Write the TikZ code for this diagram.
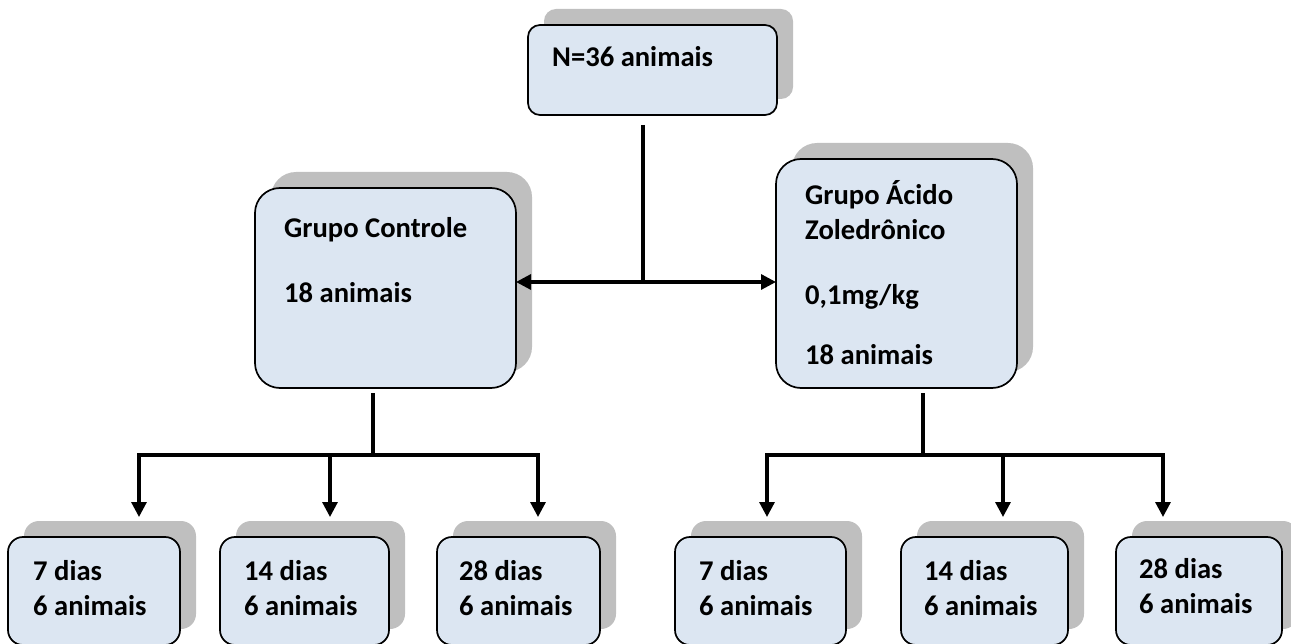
\documentclass[tikz,border=0pt]{standalone}
\usepackage{fontspec}
\setmainfont{Carlito}
\usetikzlibrary{shadows,arrows.meta}
\definecolor{boxfill}{HTML}{DCE6F2}
\definecolor{shadowc}{HTML}{BFBFBF}
\begin{document}
\begin{tikzpicture}[x=1pt,y=-1pt,
  box/.style={draw=black, line width=1.7pt, fill=boxfill, inner sep=0pt, outer sep=0pt, anchor=north west,
    general shadow={fill=shadowc, shadow xshift=16pt, shadow yshift=16pt}},
  lbl/.style={anchor=base west, inner sep=0pt, font=\fontsize{28.6}{35}\selectfont\bfseries},
  conn/.style={line width=3.2pt},
  arr/.style={conn, -{Triangle[length=15pt,width=15pt]}},
  darr/.style={conn, {Triangle[length=15pt,width=15pt]}-{Triangle[length=15pt,width=15pt]}},
]
\useasboundingbox (0,0) rectangle (1291,644);
% boxes
\node[box, rounded corners=12pt, minimum width=249pt, minimum height=90pt] (N) at (528,25) {};
\node[box, rounded corners=25pt, minimum width=261pt, minimum height=200pt] (ctrl) at (255,188) {};
\node[box, rounded corners=25pt, minimum width=241pt, minimum height=229pt] (zol) at (776,159) {};
\node[box, rounded corners=15pt, minimum width=172pt, minimum height=108pt] (L7) at (8,537) {};
\node[box, rounded corners=15pt, minimum width=169pt, minimum height=108pt] (L14) at (220,537) {};
\node[box, rounded corners=15pt, minimum width=163pt, minimum height=108pt] (L28) at (437,537) {};
\node[box, rounded corners=15pt, minimum width=171pt, minimum height=108pt] (R7) at (675,537) {};
\node[box, rounded corners=15pt, minimum width=167pt, minimum height=108pt] (R14) at (901,537) {};
\node[box, rounded corners=15pt, minimum width=166pt, minimum height=108pt] (R28) at (1116,537) {};
% texts
\node[lbl] (tN) at (552,67) {N=36 animais};
\node[lbl] (tC1) at (284,238) {Grupo Controle};
\node[lbl] (tC2) at (284,303) {18 animais};
\node[lbl] (tZ1) at (805,205) {Grupo Ácido};
\node[lbl] (tZ2) at (805,240) {Zoledrônico};
\node[lbl] (tZ3) at (805,305) {0,1mg/kg};
\node[lbl] (tZ4) at (805,365) {18 animais};
\node[lbl] (tL7a) at (33,580) {7 dias};
\node[lbl] (tL7b) at (33,615) {6 animais};
\node[lbl] (tL14a) at (244,580) {14 dias};
\node[lbl] (tL14b) at (244,615) {6 animais};
\node[lbl] (tL28a) at (459,580) {28 dias};
\node[lbl] (tL28b) at (459,615) {6 animais};
\node[lbl] (tR7a) at (699,580) {7 dias};
\node[lbl] (tR7b) at (699,615) {6 animais};
\node[lbl] (tR14a) at (924,580) {14 dias};
\node[lbl] (tR14b) at (924,615) {6 animais};
\node[lbl] (tR28a) at (1139,578) {28 dias};
\node[lbl] (tR28b) at (1139,613) {6 animais};
% junction coordinates
\coordinate (nTop) at (643,125);
\coordinate (jN) at (643,282);
\coordinate (ls) at (373,393);
\coordinate (lj) at (373,455);
\coordinate (rs) at (923,393);
\coordinate (rj) at (923,455);
\coordinate (a1) at (139,517);
\coordinate (a2) at (330,517);
\coordinate (a3) at (538,517);
\coordinate (b1) at (767,517);
\coordinate (b2) at (1003,517);
\coordinate (b3) at (1163,517);
% connectors
\draw[conn] (nTop) -- (jN);
\draw[darr] (ctrl.east |- jN) -- (zol.west |- jN);
\draw[conn] (ls) -- (lj);
\draw[arr] (lj) -| (a1);
\draw[arr] (lj) -| (a3);
\draw[arr] (a2 |- lj) -- (a2);
\draw[conn] (rs) -- (rj);
\draw[arr] (rj) -| (b1);
\draw[arr] (rj) -| (b3);
\draw[arr] (b2 |- rj) -- (b2);
\end{tikzpicture}
\end{document}
